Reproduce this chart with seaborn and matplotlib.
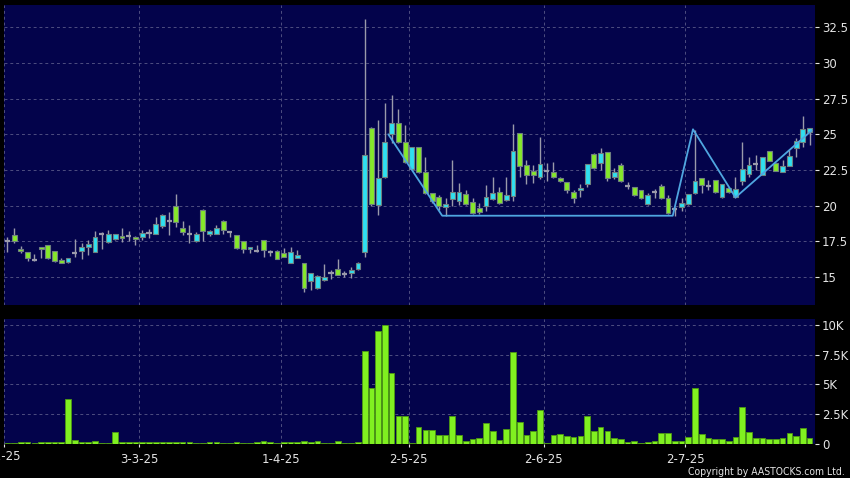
import numpy as np
import pandas as pd
import matplotlib
matplotlib.use("Agg")
import matplotlib.pyplot as plt
import matplotlib.transforms as mtransforms
import seaborn as sns

# ---------------- data ----------------
opens = [17.52, 17.92, 16.94, 16.74, 16.23, 17.13, 17.22, 16.83, 16.18, 16.09,
         16.71, 16.85, 17.08, 16.78, 17.99, 17.43, 17.66, 17.89, 17.87, 17.82,
         17.82, 18.10, 18.03, 18.59, 18.94, 20.00, 18.47, 18.03, 17.55, 19.72,
         17.99, 18.03, 18.94, 18.15, 17.92, 17.50, 16.94, 16.83, 17.57, 16.74,
         16.86, 16.68, 15.98, 16.37, 15.98, 14.70, 14.23, 14.77, 15.28, 15.56,
         15.21, 15.28, 15.56, 16.79, 25.47, 20.08, 21.98, 25.01, 25.82, 24.47,
         22.54, 24.08, 22.33, 20.87, 20.59, 19.89, 20.45, 20.35, 20.84, 20.28,
         19.82, 19.98, 20.50, 20.94, 20.40, 20.70, 25.06, 22.82, 22.42, 21.98,
         22.43, 22.38, 21.96, 21.64, 20.94, 21.10, 21.52, 23.60, 22.97, 23.74,
         21.99, 22.85, 21.40, 21.29, 21.08, 20.09, 20.98, 21.36, 20.54, 19.74,
         19.88, 20.09, 20.87, 21.92, 21.38, 21.78, 20.58, 21.26, 20.58, 21.73,
         22.22, 22.90, 22.17, 23.83, 22.97, 22.38, 22.80, 24.02, 24.49, 25.14]
highs = [17.82, 18.47, 17.20, 16.78, 16.62, 17.13, 17.22, 16.83, 16.37, 16.32,
         17.64, 17.36, 17.59, 18.20, 18.18, 18.29, 18.03, 18.47, 18.20, 17.85,
         18.33, 18.36, 19.21, 19.44, 19.58, 20.83, 18.91, 18.63, 18.18, 19.75,
         18.33, 18.63, 18.97, 18.22, 17.95, 17.52, 17.10, 17.25, 17.60, 16.90,
         16.88, 17.02, 17.09, 16.91, 16.00, 15.30, 15.16, 15.93, 15.51, 16.28,
         15.40, 15.74, 16.05, 33.07, 25.50, 26.03, 27.22, 27.73, 26.80, 25.64,
         24.10, 24.10, 23.43, 20.90, 20.75, 20.52, 23.19, 21.56, 21.10, 20.52,
         20.17, 21.45, 21.98, 21.28, 21.98, 25.71, 25.10, 23.19, 22.84, 24.82,
         23.01, 23.04, 22.00, 21.66, 21.10, 21.52, 22.92, 23.72, 24.02, 23.76,
         22.62, 23.01, 21.68, 21.30, 21.10, 20.87, 21.15, 21.52, 20.75, 19.93,
         20.51, 20.85, 25.30, 21.96, 21.80, 21.80, 21.55, 21.30, 22.03, 24.44,
         23.43, 23.55, 23.40, 23.85, 23.00, 23.20, 23.90, 24.72, 26.28, 25.45]
lows = [16.78, 17.36, 16.71, 16.11, 16.16, 16.32, 16.30, 16.05, 15.97, 16.02,
        16.43, 16.27, 16.53, 16.76, 16.97, 17.41, 17.60, 17.43, 17.55, 17.22,
        17.59, 17.75, 18.00, 18.47, 17.94, 18.52, 17.94, 17.41, 17.48, 17.55,
        17.89, 18.00, 18.01, 17.82, 17.00, 16.67, 16.71, 16.76, 16.43, 16.48,
        16.24, 16.44, 15.97, 16.33, 13.95, 14.11, 14.16, 14.75, 14.86, 15.14,
        14.98, 14.91, 15.50, 16.44, 20.00, 19.38, 21.95, 24.36, 24.40, 22.96,
        22.50, 22.30, 20.82, 20.17, 19.70, 19.28, 20.00, 20.05, 20.08, 19.45,
        19.42, 19.65, 20.40, 20.15, 20.35, 20.35, 21.98, 21.49, 21.56, 21.90,
        21.75, 21.92, 21.68, 20.87, 20.16, 20.58, 21.29, 22.55, 22.50, 21.73,
        21.90, 21.68, 21.17, 20.68, 20.45, 20.05, 20.51, 20.50, 19.44, 19.28,
        19.63, 20.05, 20.85, 20.91, 21.10, 20.90, 20.55, 20.90, 20.55, 21.45,
        22.03, 22.50, 22.15, 23.10, 22.40, 22.33, 22.78, 23.39, 24.14, 24.25]
closes = [17.52, 17.55, 16.81, 16.32, 16.23, 16.94, 16.32, 16.11, 15.97, 16.32,
          16.71, 17.08, 17.31, 17.78, 17.99, 18.03, 17.99, 17.75, 17.87, 17.68,
          18.12, 18.10, 18.75, 19.37, 18.94, 18.87, 18.15, 18.03, 18.01, 18.24,
          18.22, 18.47, 18.27, 18.15, 17.06, 16.99, 17.08, 16.83, 16.87, 16.74,
          16.26, 16.44, 16.79, 16.56, 14.23, 15.28, 15.05, 15.00, 15.28, 15.14,
          15.21, 15.51, 16.02, 23.54, 20.10, 21.91, 24.43, 25.82, 24.43, 23.03,
          24.08, 22.33, 20.87, 20.35, 20.00, 20.10, 20.94, 20.94, 20.10, 19.47,
          19.58, 20.63, 20.87, 20.17, 20.73, 23.82, 22.77, 22.15, 22.12, 22.91,
          22.43, 22.03, 21.71, 21.10, 20.51, 21.22, 22.90, 22.62, 23.72, 21.96,
          22.34, 21.75, 21.40, 20.73, 20.51, 20.73, 20.98, 20.51, 19.46, 19.74,
          20.16, 20.82, 21.75, 21.45, 21.38, 20.94, 21.50, 20.94, 21.19, 22.59,
          22.83, 22.90, 23.39, 23.15, 22.45, 22.80, 23.48, 24.53, 25.35, 25.42]
volume_k = [0.10, 0.10, 0.17, 0.17, 0.10, 0.20, 0.14, 0.14, 0.14, 3.80,
            0.34, 0.20, 0.14, 0.28, 0.10, 0.10, 1.00, 0.14, 0.14, 0.20,
            0.14, 0.14, 0.20, 0.20, 0.20, 0.14, 0.14, 0.17, 0.10, 0.10,
            0.14, 0.17, 0.10, 0.10, 0.17, 0.10, 0.10, 0.20, 0.25, 0.20,
            0.10, 0.14, 0.17, 0.17, 0.28, 0.17, 0.22, 0.10, 0.10, 0.22,
            0.10, 0.10, 0.14, 7.78, 4.69, 9.47, 9.97, 6.00, 2.39, 2.39,
            0.05, 1.43, 1.15, 1.20, 0.76, 0.73, 2.36, 0.73, 0.25, 0.45,
            0.50, 1.74, 1.12, 0.34, 1.26, 7.72, 1.85, 0.76, 1.10, 2.87,
            0.08, 0.73, 0.87, 0.70, 0.62, 0.65, 2.39, 1.07, 1.43, 1.12,
            0.50, 0.45, 0.20, 0.25, 0.08, 0.20, 0.25, 0.96, 0.96, 0.22,
            0.22, 0.62, 4.72, 0.84, 0.53, 0.45, 0.45, 0.28, 0.56, 3.12,
            1.01, 0.48, 0.53, 0.39, 0.45, 0.48, 0.93, 0.70, 1.35, 0.50]

tick_idx = [0, 20, 41, 60, 80, 101]
tick_labels = ["3-2-25", "3-3-25", "1-4-25", "2-5-25", "2-6-25", "2-7-25"]
price_ticks = [15, 17.5, 20, 22.5, 25, 27.5, 30, 32.5]
price_tick_labels = ["15", "17.5", "20", "22.5", "25", "27.5", "30", "32.5"]
vol_ticks = [0, 2.5, 5, 7.5, 10]
vol_tick_labels = ["0", "2.5K", "5K", "7.5K", "10K"]
trend_x = [56.5, 64.5, 98.7, 101.7, 108.0, 119.3]
trend_y = [25.0, 19.3, 19.3, 25.35, 20.58, 25.26]

# ---------------- style ----------------
sns.set_theme(style="dark")
plt.rcParams['font.family'] = ['DejaVu Sans']

BG = '#000000'
PANEL = '#03034b'
GRID = '#4e4e80'
CYAN = '#2fe0f0'
GREEN = '#86e82a'
EDGE = '#6f8080'
WICK = '#9a9aaa'
LIME = '#80f020'
VEDGE = '#4e9a12'
TXT = '#e4e4e4'
TREND = '#4fa6e0'

df = pd.DataFrame({'open': opens, 'high': highs, 'low': lows, 'close': closes,
                   'vol': volume_k})
df['idx'] = np.arange(len(df))

fig = plt.figure(figsize=(8.5, 4.78), dpi=100, facecolor=BG)
ax = fig.add_axes([4 / 850, 1 - 305 / 478, 811 / 850, 300 / 478])
axv = fig.add_axes([4 / 850, 1 - 444 / 478, 811 / 850, 125 / 478])

grid_pos = [t - 0.45 for t in tick_idx]
xlim = (-0.5, 119.8)

for a in (ax, axv):
    a.set_facecolor(PANEL)
    for s in a.spines.values():
        s.set_visible(False)

# ---- candles ----
up = df[df.close > df.open]
dn = df[df.close < df.open]
dj = df[df.close == df.open]
ax.vlines(df.idx, df.low, df.high, color=WICK, lw=1.0, zorder=2)
ax.bar(up.idx, up.close - up.open, bottom=up.open, width=0.72, color=CYAN,
       edgecolor=EDGE, linewidth=0.8, zorder=3)
ax.bar(dn.idx, dn.open - dn.close, bottom=dn.close, width=0.72, color=GREEN,
       edgecolor=EDGE, linewidth=0.8, zorder=3)
ax.hlines(dj.close, dj.idx - 0.38, dj.idx + 0.38, color=WICK, lw=1.6, zorder=3)

sns.lineplot(x=trend_x, y=trend_y, ax=ax, color=TREND, lw=1.3, sort=False,
             zorder=4)

ax.set_xlim(*xlim)
ax.set_ylim(13.05, 34.05)
ax.set_yticks(price_ticks)
ax.set_yticklabels(price_tick_labels)
ax.yaxis.tick_right()
ax.set_xticks(grid_pos)
ax.tick_params(axis='x', length=0, labelbottom=False)
ax.tick_params(axis='y', colors=TXT, labelcolor=TXT, labelsize=8.5,
               length=3, width=0.8, pad=2, right=True, left=False)
ax.grid(True, color=GRID, linestyle=(0, (3, 3)), linewidth=0.7)
ax.set_xlabel('')
ax.set_ylabel('')

# ---- volume ----
sns.barplot(data=df, x='idx', y='vol', native_scale=True, width=0.84,
            color=LIME, saturation=1, edgecolor=VEDGE, linewidth=0.6,
            errorbar=None, ax=axv, zorder=3)
axv.set_xlim(*xlim)
axv.set_ylim(0, 10.5)
axv.set_yticks(vol_ticks)
axv.set_yticklabels(vol_tick_labels)
axv.yaxis.tick_right()
axv.set_xticks(grid_pos)
axv.set_xticklabels([''] + tick_labels[1:])
axv.tick_params(axis='x', colors=TXT, labelcolor=TXT, labelsize=8.5,
                length=2.5, width=0.8, pad=4, bottom=True)
axv.tick_params(axis='y', colors=TXT, labelcolor=TXT, labelsize=8.5,
                length=3, width=0.8, pad=2, right=True, left=False)
axv.grid(True, color=GRID, linestyle=(0, (3, 3)), linewidth=0.7)
axv.set_xlabel('')
axv.set_ylabel('')

trans = mtransforms.blended_transform_factory(axv.transData, axv.transAxes)
axv.text(tick_idx[0] - 0.95, -0.05, tick_labels[0], transform=trans,
         ha='center', va='top', fontsize=8.5, color=TXT, clip_on=False)

fig.text(0.994, 0.003, "Copyright by AASTOCKS.com Ltd.", ha='right',
         va='bottom', fontsize=7.5, fontstretch='condensed', color=TXT)

fig.savefig('out.png', dpi=100, facecolor=BG)
